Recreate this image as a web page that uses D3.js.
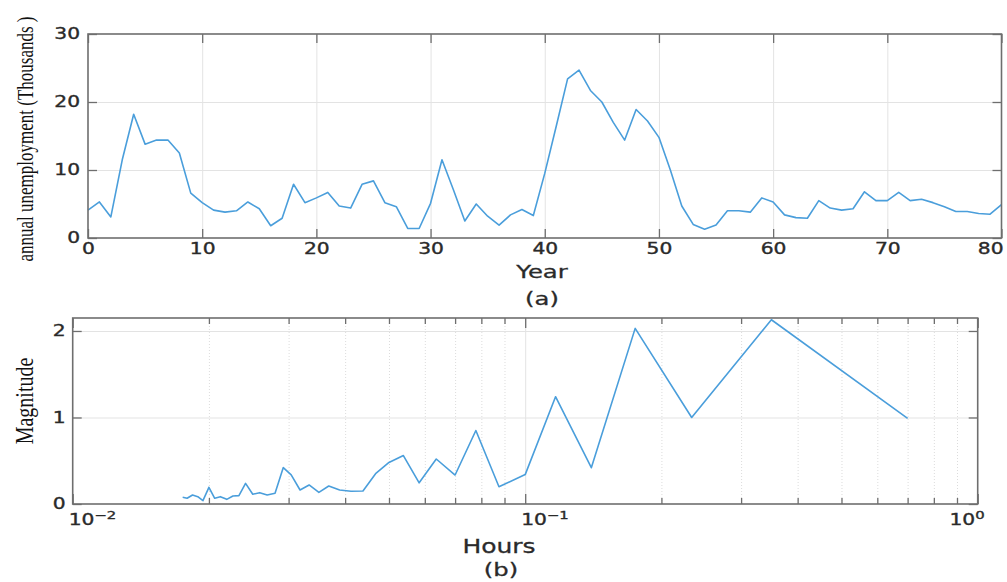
<!DOCTYPE html>
<html><head><meta charset="utf-8">
<script src="https://cdn.jsdelivr.net/npm/d3@7"></script>
<style>body{margin:0;background:#fff}svg{display:block}</style>
</head><body><svg id="c" width="1007" height="582"></svg>
<script>
// ---------- data ----------
const years = [0,1,2,3,4,5,6,7,8,9,10,11,12,13,14,15,16,17,18,19,20,21,22,23,24,25,26,27,28,29,30,31,32,33,34,35,36,37,38,39,40,41,42,43,44,45,46,47,48,49,50,51,52,53,54,55,56,57,58,59,60,61,62,63,64,65,66,67,68,69,70,71,72,73,74,75,76,77,78,79,80];
const unemployment = [4.1,5.3,3.1,11.5,18.2,13.8,14.4,14.4,12.5,6.6,
  5.2,4.1,3.8,4.0,5.3,4.3,1.8,2.9,7.9,5.2,
  5.9,6.7,4.7,4.4,7.9,8.4,5.2,4.6,1.4,1.4,
  5.1,11.5,7.1,2.5,5.0,3.2,1.9,3.4,4.2,3.3,
  9.5,16.4,23.4,24.7,21.7,20.0,17.0,14.4,18.9,17.2,
  14.8,10.0,4.7,2.0,1.3,1.9,4.0,4.0,3.8,5.9,
  5.3,3.4,3.0,2.9,5.5,4.4,4.1,4.3,6.8,5.5,
  5.5,6.7,5.5,5.7,5.2,4.6,3.9,3.9,3.6,3.5,4.9];
const periodHours = [0.7,0.35,0.2333,0.175,0.14,0.1167,0.1,0.0875,0.0778,0.07,
  0.0636,0.0583,0.0538,0.05,0.0467,0.0438,0.0412,0.0389,0.0368,0.035,
  0.0333,0.0318,0.0304,0.0292,0.028,0.0269,0.0259,0.025,0.0241,0.0233,
  0.0226,0.0219,0.0212,0.0206,0.02,0.0194,0.0189,0.0184,0.0179,0.0175];
const magnitude = [0.99,2.13,1.0,2.03,0.42,1.24,0.34,0.2,0.85,0.335,
  0.52,0.245,0.56,0.48,0.35,0.15,0.148,0.162,0.208,0.135,
  0.22,0.162,0.336,0.421,0.124,0.104,0.131,0.112,0.239,0.097,
  0.093,0.054,0.085,0.066,0.193,0.039,0.085,0.104,0.066,0.077];
const yearTicks = [0,10,20,30,40,50,60,70,80];
const unempTicks = [0,10,20,30];
const hourMajorTicks = [0.01,0.1,1];
const hourMinorTicks = [0.02,0.03,0.04,0.05,0.06,0.07,0.08,0.09,0.2,0.3,0.4,0.5,0.6,0.7,0.8,0.9];
const magTicks = [0,1,2];

// ---------- style ----------
const svg = d3.select("#c");
const AX = "#6e6e6e", GRID = "#e3e3e3", LINE = "#4a9edb", TXT = "#2a2a2a";
const SX = 1.35;
const SANS = "DejaVu Sans", SERIF = "Liberation Serif";

function cleanAxis(g, color, w) {
  g.select(".domain").remove();
  g.selectAll("line").attr("stroke", color).attr("stroke-width", w);
  g.attr("font-family", SANS).attr("font-size", 15).style("color", TXT);
  g.selectAll("text").each(function () {
    const t = d3.select(this);
    const x = +(t.attr("x") || 0);
    t.attr("x", x / SX).attr("transform", `scale(${SX},1)`).attr("fill", TXT)
      .attr("stroke", TXT).attr("stroke-width", 0.35);
  });
}
function label(txt, x, y, size, sx, family) {
  return svg.append("text").attr("transform", `translate(${x},${y}) scale(${sx},1)`)
    .attr("text-anchor", "middle").attr("font-family", family || SANS).attr("font-size", size)
    .attr("fill", TXT).attr("stroke", TXT).attr("stroke-width", 0.3).text(txt);
}

// ---------- chart (a) ----------
const A = {l: 88, r: 1001.5, t: 34, b: 238};
const xa = d3.scaleLinear().domain([0, 80]).range([A.l, A.r]);
const ya = d3.scaleLinear().domain([0, 30]).range([A.b, A.t]);

// grid
svg.append("g").attr("transform", `translate(0,${A.b})`)
  .call(d3.axisBottom(xa).tickValues(yearTicks.filter(v => v > 0 && v < 80)).tickSize(-(A.b - A.t)).tickFormat(() => ""))
  .call(g => cleanAxis(g, GRID, 1));
svg.append("g").attr("transform", `translate(${A.l},0)`)
  .call(d3.axisLeft(ya).tickValues(unempTicks.filter(v => v > 0 && v < 30)).tickSize(-(A.r - A.l)).tickFormat(() => ""))
  .call(g => cleanAxis(g, GRID, 1));

// series
svg.append("path").datum(years.map((d, i) => [d, unemployment[i]]))
  .attr("fill", "none").attr("stroke", LINE).attr("stroke-width", 1.6).attr("stroke-linejoin", "round")
  .attr("d", d3.line().x(d => xa(d[0])).y(d => ya(d[1])));

// axes & ticks
svg.append("g").attr("transform", `translate(0,${A.b})`)
  .call(d3.axisBottom(xa).tickValues(yearTicks).tickSize(-9).tickPadding(5))
  .call(g => cleanAxis(g, AX, 1.3))
  .call(g => g.selectAll("text").filter(d => d === yearTicks[yearTicks.length - 1])
    .attr("text-anchor", "end").attr("x", 1.5 / SX));
svg.append("g").attr("transform", `translate(0,${A.t})`)
  .call(d3.axisTop(xa).tickValues(yearTicks).tickSize(-9).tickFormat(() => ""))
  .call(g => cleanAxis(g, AX, 1.3));
svg.append("g").attr("transform", `translate(${A.l},0)`)
  .call(d3.axisLeft(ya).tickValues(unempTicks).tickSize(-9).tickPadding(8))
  .call(g => cleanAxis(g, AX, 1.3));
svg.append("g").attr("transform", `translate(${A.r},0)`)
  .call(d3.axisRight(ya).tickValues(unempTicks).tickSize(-9).tickFormat(() => ""))
  .call(g => cleanAxis(g, AX, 1.3));
svg.append("rect").attr("x", A.l).attr("y", A.t).attr("width", A.r - A.l).attr("height", A.b - A.t)
  .attr("fill", "none").attr("stroke", AX).attr("stroke-width", 1.6);

// labels
label("Year", 542, 278, 18, SX);
label("(a)", 542, 305, 18, SX);
label("annual unemployment (Thousands )", 0, 0, 17, 1, SERIF)
  .attr("transform", `translate(32.5,139) scale(${SX},1) rotate(-90)`).attr("fill", "#111").attr("stroke", "none");

// ---------- chart (b) ----------
const B = {l: 72.7, r: 977.7, t: 318, b: 504};
const xb = d3.scaleLog().domain([0.01, 1]).range([B.l, B.r]);
const yb = d3.scaleLinear().domain([0, 2.15]).range([B.b, B.t]);

// grid
svg.append("g").attr("transform", `translate(0,${B.b})`)
  .call(d3.axisBottom(xb).tickValues(hourMinorTicks).tickSize(-(B.b - B.t)).tickFormat(() => ""))
  .call(g => { cleanAxis(g, "#dcdcdc", 1); g.selectAll("line").attr("stroke-dasharray", "1,2"); });
svg.append("g").attr("transform", `translate(0,${B.b})`)
  .call(d3.axisBottom(xb).tickValues([hourMajorTicks[1]]).tickSize(-(B.b - B.t)).tickFormat(() => ""))
  .call(g => cleanAxis(g, GRID, 1));
svg.append("g").attr("transform", `translate(${B.l},0)`)
  .call(d3.axisLeft(yb).tickValues(magTicks.filter(v => v > 0)).tickSize(-(B.r - B.l)).tickFormat(() => ""))
  .call(g => cleanAxis(g, GRID, 1));

// series
svg.append("path").datum(periodHours.map((d, i) => [d, magnitude[i]]))
  .attr("fill", "none").attr("stroke", LINE).attr("stroke-width", 1.6).attr("stroke-linejoin", "round")
  .attr("d", d3.line().x(d => xb(d[0])).y(d => yb(d[1])));

// ticks
[[B.b, d3.axisBottom], [B.t, d3.axisTop]].forEach(([yy, ax]) => {
  svg.append("g").attr("transform", `translate(0,${yy})`)
    .call(ax(xb).tickValues(hourMinorTicks).tickSize(-6).tickFormat(() => ""))
    .call(g => cleanAxis(g, AX, 1.3));
  svg.append("g").attr("transform", `translate(0,${yy})`)
    .call(ax(xb).tickValues(hourMajorTicks).tickSize(-10).tickFormat(() => ""))
    .call(g => cleanAxis(g, AX, 1.3));
});
svg.append("g").attr("transform", `translate(${B.l},0)`)
  .call(d3.axisLeft(yb).tickValues(magTicks).tickSize(-9).tickPadding(7).tickFormat(d3.format("d")))
  .call(g => cleanAxis(g, AX, 1.3));
svg.append("g").attr("transform", `translate(${B.r},0)`)
  .call(d3.axisRight(yb).tickValues(magTicks).tickSize(-9).tickFormat(() => ""))
  .call(g => cleanAxis(g, AX, 1.3));
svg.append("rect").attr("x", B.l).attr("y", B.t).attr("width", B.r - B.l).attr("height", B.b - B.t)
  .attr("fill", "none").attr("stroke", AX).attr("stroke-width", 1.6);

// log tick labels 10^n
hourMajorTicks.forEach((v, i) => {
  const last = i === hourMajorTicks.length - 1;
  const e = Math.round(Math.log10(v));
  const px = last ? xb(v) + 7 : xb(v) - 4;
  const t = svg.append("text").attr("transform", `translate(${px},${B.b + 21}) scale(${SX},1)`)
    .attr("text-anchor", last ? "end" : "start").attr("font-family", SANS).attr("font-size", 15)
    .attr("fill", TXT).attr("stroke", TXT).attr("stroke-width", 0.35);
  t.append("tspan").text("10");
  t.append("tspan").attr("font-size", 11).attr("dy", -6).text(e < 0 ? "\u2212" + (-e) : String(e));
});

label("Hours", 499, 553, 20, 1.25);
label("(b)", 501, 576, 18, SX);
label("Magnitude", 0, 0, 20, 1, SERIF)
  .attr("transform", `translate(33,401) scale(1.25,1) rotate(-90)`).attr("fill", "#111").attr("stroke", "none");
</script></body></html>
